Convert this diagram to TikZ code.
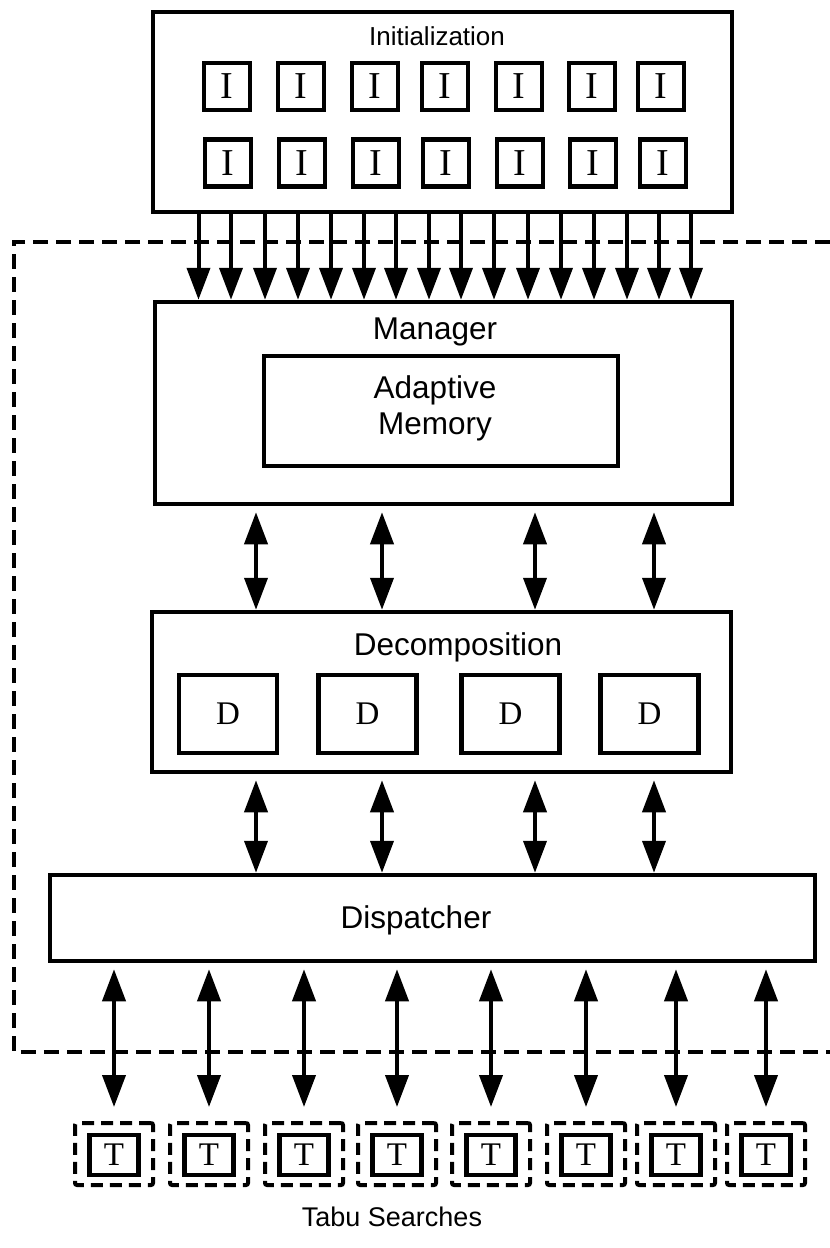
\documentclass[tikz,border=0pt]{standalone}
\usepackage{fontspec}
\setmainfont{Liberation Serif}
\newfontfamily\sansf{Liberation Sans}
\usetikzlibrary{arrows.meta}
\tikzset{
  bigbox/.style={draw, line width=4.5pt, inner sep=0pt, fill=white},
  smallbox/.style={draw, line width=4.5pt, inner sep=0pt, fill=white},
  dashbox/.style={draw, line width=4pt, inner sep=0pt, dash pattern=on 12pt off 7pt, rounded corners=2pt},
  lbl/.style={font=\sansf\fontsize{31.5}{36}\selectfont, inner sep=0pt},
  ilbl/.style={font=\fontsize{38}{42}\selectfont},
  dlbl/.style={font=\fontsize{33}{36}\selectfont},
  tlbl/.style={font=\fontsize{33}{36}\selectfont},
  tip/.tip={Triangle[length=32pt,width=23pt]},
  arr/.style={line width=4pt, -tip},
  darr/.style={line width=4pt, tip-tip},
  dashline/.style={line width=4.5pt, dash pattern=on 15pt off 8pt}
}
\begin{document}
\begin{tikzpicture}[x=1pt,y=-1pt]
\useasboundingbox (0,0) rectangle (830,1248);

% big dashed outline
\draw[dashline] (830,242) -- (14,242) -- (14,1052) -- (830,1052);

% Initialization
\node[bigbox, minimum width=579pt, minimum height=200pt] (init) at (442.5,112) {};
\node[lbl, font=\sansf\fontsize{26}{30}\selectfont, anchor=base] (initt) at (437,45) {Initialization};
\foreach \x [count=\i] in {227,301,375,445,519,592,661} {
  \node[smallbox, minimum width=46pt, minimum height=47pt, ilbl] (ia\i) at (\x,86.5) {I};
}
\foreach \x [count=\i] in {228,302,376,446,520,593,663} {
  \node[smallbox, minimum width=46pt, minimum height=47pt, ilbl] (ib\i) at (\x,163) {I};
}

% Manager
\node[bigbox, minimum width=577pt, minimum height=202pt] (mgr) at (443.5,403) {};
\node[lbl, anchor=base] (mgrt) at (435,339) {Manager};
\node[bigbox, minimum width=354pt, minimum height=110pt] (am) at (441,411) {};
\node[lbl, align=center] (amt) at (435,408) {Adaptive\\Memory};

% Decomposition
\node[bigbox, minimum width=579pt, minimum height=160pt] (dec) at (441.5,692) {};
\node[lbl, anchor=base] (dect) at (458,655) {Decomposition};
\foreach \x [count=\i] in {228,367.5,510.5,649.5} {
  \node[smallbox, minimum width=98pt, minimum height=78pt, dlbl] (d\i) at (\x,714) {D};
}

% Dispatcher
\node[bigbox, minimum width=765pt, minimum height=86pt] (disp) at (432.5,918) {};
\node[lbl, anchor=base] (dispt) at (416,928) {Dispatcher};

% Tabu search boxes
\foreach \x [count=\i] in {114,209,304,397,491,586,676,766} {
  \node[dashbox, minimum width=78pt, minimum height=62pt] (tb\i) at (\x,1154) {};
  \node[smallbox, minimum width=49pt, minimum height=40pt, tlbl] (ti\i) at (\x,1155) {T};
}
\node[lbl, font=\sansf\fontsize{27}{30}\selectfont, anchor=base] (tabu) at (392,1226) {Tabu Searches};

% arrows init -> manager
\foreach \x [count=\i] in {198.5,231,265,298,331,364,396,429,461,494,528,561,594,627,659,691} {
  \coordinate (ax\i) at (\x,0);
  \draw[arr] (ax\i |- init.south) -- (ax\i |- mgr.north);
}
% manager <-> decomposition <-> dispatcher
\foreach \x [count=\i] in {256,382,535,654} {
  \coordinate (bx\i) at (\x,0);
  \draw[darr, shorten <=6pt] (bx\i |- mgr.south) -- (bx\i |- dec.north);
  \draw[darr, shorten <=6pt] (bx\i |- dec.south) -- (bx\i |- disp.north);
}
% dispatcher <-> tabu searches
\foreach \i in {1,...,8} {
  \draw[darr, shorten <=6pt, shorten >=14pt] (tb\i |- disp.south) -- (tb\i.north);
}
\end{tikzpicture}
\end{document}
